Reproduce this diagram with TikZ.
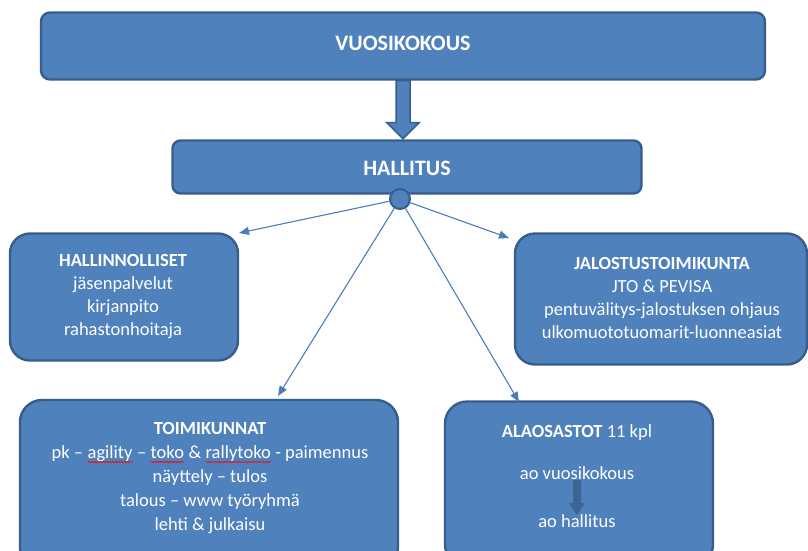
\documentclass[tikz,border=0pt]{standalone}
\usepackage{fontspec}
\setmainfont{Carlito}
\usetikzlibrary{arrows.meta,calc,decorations.pathmorphing}
\definecolor{boxblue}{HTML}{4F81BD}
\definecolor{boxedge}{HTML}{385D8A}
\definecolor{linkblue}{HTML}{4A7EBB}
\definecolor{darkarrow}{HTML}{3B6593}
\newcommand\redwave[1]{\tikz[baseline=(w.base)]{\node[inner sep=0pt,outer sep=0pt] (w) {#1};
  \draw[red, line width=0.6pt, decorate, decoration={snake,amplitude=0.8pt,segment length=3pt}] ([yshift=-3.5pt]w.base west) -- ([yshift=-3.5pt]w.base east);}}
\tikzset{
  orgbox/.style={draw=boxedge, fill=boxblue, line width=2.4pt, inner sep=0pt},
  boxtext/.style={text=white, align=center, font=\fontsize{18.5}{23}\selectfont},
  titletext/.style={text=white, font=\fontsize{22}{26}\selectfont\bfseries},
  link/.style={draw=linkblue, line width=1.1pt, -{Triangle[length=10pt,width=8pt]}},
  bigarrow/.style={fill=boxblue, draw=boxedge, line width=1.5pt, line join=miter},
}
\begin{document}
\begin{tikzpicture}[x=1pt,y=-1pt]
\useasboundingbox (0,0) rectangle (808,550);
\clip (0,0) rectangle (808,550);
% boxes
\node[orgbox, rounded corners=9pt, minimum width=724pt, minimum height=67pt] (vk) at (403,46) {};
\node[titletext] (vkt) at (403,43) {VUOSIKOKOUS};
\node[orgbox, rounded corners=8pt, minimum width=469pt, minimum height=53pt] (hal) at (407,167) {};
\node[titletext] (halt) at (407,168) {HALLITUS};
\node[orgbox, rounded corners=20pt, minimum width=228pt, minimum height=127pt] (hin) at (124,297) {};
\node[boxtext] (hint) at (123,297) {\textbf{HALLINNOLLISET}\\jäsenpalvelut\\kirjanpito\\rahastonhoitaja};
\node[orgbox, rounded corners=20pt, minimum width=292pt, minimum height=131pt] (jal) at (661,299) {};
\node[boxtext] (jalt) at (662,298) {\textbf{JALOSTUSTOIMIKUNTA}\\JTO \& PEVISA\\pentuvälitys-jalostuksen ohjaus\\ulkomuototuomarit-luonneasiat};
\node[orgbox, rounded corners=22pt, minimum width=378pt, minimum height=170pt] (toi) at (209,485) {};
\node[boxtext, font=\fontsize{18.5}{24}\selectfont] (toit) at (210,478) {\textbf{TOIMIKUNNAT}\\pk – \redwave{agility} – \redwave{toko} \& \redwave{rallytoko} - paimennus\\näyttely – tulos\\talous – www työryhmä\\lehti \& julkaisu};
\node[orgbox, rounded corners=22pt, minimum width=268pt, minimum height=165pt] (ala) at (579,484) {};
\node[boxtext] (alat) at (577,433) {\textbf{ALAOSASTOT} 11 kpl};
\node[boxtext] (aov) at (577,473) {ao vuosikokous};
\node[boxtext] (aoh) at (577,521) {ao hallitus};
% hub circle
\node[circle, draw=boxedge, fill=boxblue, line width=2pt, minimum size=20pt, inner sep=0pt] (hub) at (400,199) {};
% big arrow
\path[bigarrow, shift={(vk.south)}] (-7,0) -- (-7,42) -- (-16,42) -- (0,58) -- (16,42) -- (7,42) -- (7,0) -- cycle;
% small arrow
\path[fill=darkarrow, shift={(aov.south)}] (-4,-3) -- (-4,20) -- (-8,20) -- (0,32) -- (8,20) -- (4,20) -- (4,-3) -- cycle;
% links
\coordinate (c1) at (239,233);
\coordinate (c2) at (509,238);
\coordinate (c3) at (278,396);
\coordinate (c4) at (519,402);
\draw[link] (hub) -- (c1);
\draw[link] (hub) -- (c2);
\draw[link] (hub) -- (c3);
\draw[link] (hub) -- (c4);
\end{tikzpicture}
\end{document}
